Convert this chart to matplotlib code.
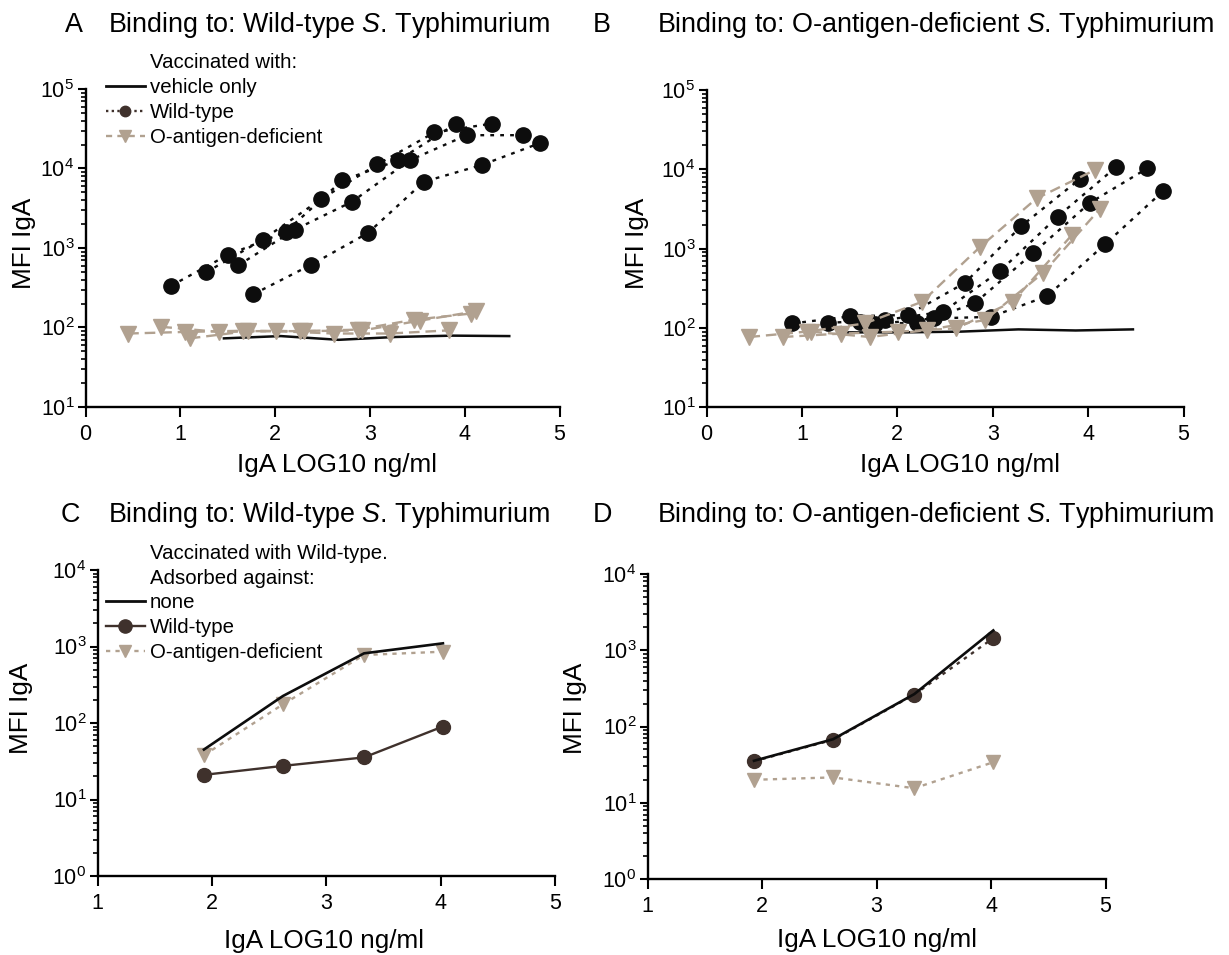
import numpy as np
import matplotlib
matplotlib.use("Agg")
import matplotlib.pyplot as plt
from matplotlib.lines import Line2D
from matplotlib.ticker import LogLocator, NullFormatter, FuncFormatter, FixedLocator

plt.rcParams['font.family'] = ['Liberation Sans', 'DejaVu Sans']
plt.rcParams['mathtext.fontset'] = 'custom'
plt.rcParams['mathtext.rm'] = 'Liberation Sans'
plt.rcParams['mathtext.it'] = 'Liberation Sans:italic'
plt.rcParams['mathtext.bf'] = 'Liberation Sans:bold'

# ---------------- data ----------------
# Panels A/B: dilution series per animal, x = log10 IgA (ng/ml), y = MFI IgA
wt_x = [[0.90, 1.50, 2.11, 2.71, 3.30, 3.91],
        [1.27, 1.87, 2.48, 3.08, 3.68, 4.29],
        [1.61, 2.21, 2.81, 3.42, 4.02, 4.62],
        [1.77, 2.38, 2.98, 3.57, 4.18, 4.79]]
wt_mfi_A = [[334, 816, 1592, 7090, 12680, 36800],
            [493, 1274, 4080, 11290, 28370, 36800],
            [604, 1706, 3810, 12680, 26240, 26240],
            [262, 615, 1546, 6820, 11070, 20790]]
wt_mfi_B = [[114, 140, 146, 371, 1928, 7480],
            [116, 126, 160, 527, 2530, 10600],
            [118, 114, 204, 872, 3790, 10280],
            [112, 132, 138, 252, 1143, 5370]]

oa_x = [[0.45, 1.05, 1.66, 2.26, 2.87, 3.46, 4.07],
        [0.80, 1.41, 2.01, 2.62, 3.21, 3.83],
        [1.10, 1.71, 2.31, 2.92, 3.53, 4.12]]
oa_mfi_A = [[84, 88, 91, 90, 94, 125, 150],
            [102, 88, 90, 84, 84, 92],
            [73, 90, 90, 92, 122, 160]]
oa_mfi_B = [[77, 90, 114, 214, 1057, 4300, 9800],
            [77, 85, 90, 99, 214, 1486],
            [90, 77, 94, 126, 497, 3130]]

veh_x = [1.46, 2.06, 2.67, 3.27, 3.87, 4.47]
veh_mfi_A = [73, 78, 70, 76, 79, 78]
veh_mfi_B = [88, 88, 90, 96, 93, 96]

# Panels C/D: serum from wild-type vaccinated mice after adsorption
ads_x = [1.93, 2.62, 3.33, 4.02]
none_C = [45, 225, 814, 1100]
wt_C = [21, 27.5, 35.5, 90]
oa_C = [38, 175, 775, 855]
none_D = [35.5, 68, 266, 1820]
wt_D = [35, 67, 262, 1445]
oa_D = [20, 21.5, 15.5, 34]

# ---------------- style ----------------
BLACK = '#0d0d0d'
BROWN = '#3f312c'
TAN = '#b1a190'
W, H = 1229, 955
TICK_FS = 15.5
LABEL_FS = 18.8
TITLE_FS = 19.4
LEG_FS = 14.7

fig = plt.figure(figsize=(W / 100, H / 100), dpi=100)
fig.patch.set_facecolor('white')


def px_axes(l, t, r, b):
    return fig.add_axes([l / W, 1 - b / H, (r - l) / W, (b - t) / H])


def style_axes(ax, xlim, ylim):
    ax.set_yscale('log')
    ax.set_xlim(*xlim)
    ax.set_ylim(*ylim)
    for s in ('top', 'right'):
        ax.spines[s].set_visible(False)
    for s in ('left', 'bottom'):
        ax.spines[s].set_linewidth(1.7)
        ax.spines[s].set_color('black')
    ax.xaxis.set_major_locator(FixedLocator(np.arange(xlim[0], xlim[1] + 1)))
    ax.xaxis.set_major_formatter(FuncFormatter(lambda v, p: f'{int(round(v))}'))
    ax.yaxis.set_major_locator(LogLocator(base=10, subs=(1.0,), numticks=20))
    ax.yaxis.set_minor_locator(LogLocator(base=10, subs=np.arange(2, 10), numticks=20))
    ax.yaxis.set_minor_formatter(NullFormatter())
    ax.yaxis.set_major_formatter(
        FuncFormatter(lambda v, p: r'$10^{%d}$' % int(round(np.log10(v)))))
    ax.tick_params(axis='x', which='major', direction='out', length=7, width=1.5,
                   labelsize=TICK_FS, pad=5)
    ax.tick_params(axis='y', which='major', direction='out', length=6, width=1.5,
                   labelsize=TICK_FS, pad=2)
    ax.tick_params(axis='y', which='minor', direction='out', length=3.5, width=1.2)
    ax.tick_params(axis='x', which='minor', length=0)


def fig_text(x, y, s, **kw):
    fig.text(x / W, 1 - y / H, s, **kw)


def labels(ax, xc, xb, yx, yc):
    ax.set_xlabel('IgA LOG10 ng/ml', fontsize=LABEL_FS, va='baseline', ha='center')
    ax.xaxis.set_label_coords(xc / W, 1 - xb / H, transform=fig.transFigure)
    ax.set_ylabel('MFI IgA', fontsize=LABEL_FS, va='center', ha='center')
    ax.yaxis.set_label_coords(yx / W, 1 - yc / H, transform=fig.transFigure)


axA = px_axes(85.5, 89, 559.5, 407)
axB = px_axes(706.5, 90, 1183.5, 407.3)
axC = px_axes(97.6, 570, 555, 876)
axD = px_axes(647.5, 574, 1105.5, 879)

# ---------------- panels A and B ----------------
for ax, wt_vals, oa_vals, veh_vals in ((axA, wt_mfi_A, oa_mfi_A, veh_mfi_A),
                                        (axB, wt_mfi_B, oa_mfi_B, veh_mfi_B)):
    style_axes(ax, (0, 5), (10, 1e5))
    ax.plot(veh_x, veh_vals, color=BLACK, lw=1.8, zorder=2)
    for xs, ys in zip(wt_x, wt_vals):
        ax.plot(xs, ys, color=BLACK, lw=1.7, ls=(0, (1.6, 2.6)), marker='o',
                ms=11, mfc=BLACK, mec=BLACK, zorder=3)
    for xs, ys in zip(oa_x, oa_vals):
        ax.plot(xs, ys, color=TAN, lw=1.7, ls=(0, (4.5, 2.5)), marker='v',
                ms=11, mfc=TAN, mec=TAN, zorder=4)

labels(axA, 337, 472, 24, 243)
labels(axB, 960, 472, 637, 243)

legA = [Line2D([], [], color='none', label='Vaccinated with:'),
        Line2D([], [], color=BLACK, lw=2, label='vehicle only'),
        Line2D([], [], color=BROWN, lw=1.7, ls=(0, (1, 1.4)), marker='o', ms=7.5,
               mfc=BROWN, mec=BROWN, label='Wild-type'),
        Line2D([], [], color=TAN, lw=1.7, ls=(0, (2.6, 2.2)), marker='v', ms=8,
               mfc=TAN, mec=TAN, label='O-antigen-deficient')]
axA.legend(handles=legA, loc='upper left', bbox_to_anchor=(106 / W, 1 - 53 / H),
           bbox_transform=fig.transFigure, frameon=False, fontsize=LEG_FS,
           handlelength=1.9, handletextpad=0.25, labelspacing=0.29,
           borderpad=0, borderaxespad=0)

# ---------------- panels C and D ----------------
style_axes(axC, (1, 5), (1, 1e4))
axC.plot(ads_x, oa_C, color=TAN, lw=1.7, ls=(0, (1.8, 2.2)), marker='v', ms=10,
         mfc=TAN, mec=TAN, zorder=3)
axC.plot(ads_x, wt_C, color=BROWN, lw=1.7, marker='o', ms=10, mfc=BROWN,
         mec=BROWN, zorder=3)
axC.plot(ads_x, none_C, color=BLACK, lw=1.9, zorder=4)

style_axes(axD, (1, 5), (1, 1e4))
axD.plot(ads_x, oa_D, color=TAN, lw=1.7, ls=(0, (1.8, 2.2)), marker='v', ms=10,
         mfc=TAN, mec=TAN, zorder=3)
axD.plot(ads_x, wt_D, color=BROWN, lw=1.7, ls=(0, (1.5, 2.2)), marker='o', ms=10,
         mfc=BROWN, mec=BROWN, zorder=3)
axD.plot(ads_x, none_D, color=BLACK, lw=1.9, zorder=4)

labels(axC, 324, 948, 21, 708)
labels(axD, 877, 947, 575, 708)

legC = [Line2D([], [], color='none', label='Vaccinated with Wild-type.'),
        Line2D([], [], color='none', label='Adsorbed against:'),
        Line2D([], [], color=BLACK, lw=2, label='none'),
        Line2D([], [], color=BROWN, lw=1.7, marker='o', ms=9.5, mfc=BROWN,
               mec=BROWN, label='Wild-type'),
        Line2D([], [], color=TAN, lw=1.7, ls=(0, (1.8, 2.2)), marker='v', ms=9,
               mfc=TAN, mec=TAN, label='O-antigen-deficient')]
axC.legend(handles=legC, loc='upper left', bbox_to_anchor=(106 / W, 1 - 544 / H),
           bbox_transform=fig.transFigure, frameon=False, fontsize=LEG_FS,
           handlelength=1.9, handletextpad=0.25, labelspacing=0.28,
           borderpad=0, borderaxespad=0)

# ---------------- titles ----------------
fig_text(65, 32, 'A', fontsize=TITLE_FS, va='baseline')
fig_text(108, 32, r'Binding to: Wild-type $\mathit{S}$. Typhimurium',
         fontsize=TITLE_FS, va='baseline')
fig_text(593, 32, 'B', fontsize=TITLE_FS, va='baseline')
fig_text(657, 32, r'Binding to: O-antigen-deficient $\mathit{S}$. Typhimurium',
         fontsize=TITLE_FS, va='baseline')
fig_text(61, 522, 'C', fontsize=TITLE_FS, va='baseline')
fig_text(108, 522, r'Binding to: Wild-type $\mathit{S}$. Typhimurium',
         fontsize=TITLE_FS, va='baseline')
fig_text(593, 522, 'D', fontsize=TITLE_FS, va='baseline')
fig_text(657, 522, r'Binding to: O-antigen-deficient $\mathit{S}$. Typhimurium',
         fontsize=TITLE_FS, va='baseline')

fig.savefig('out.png', dpi=100, facecolor='white')
